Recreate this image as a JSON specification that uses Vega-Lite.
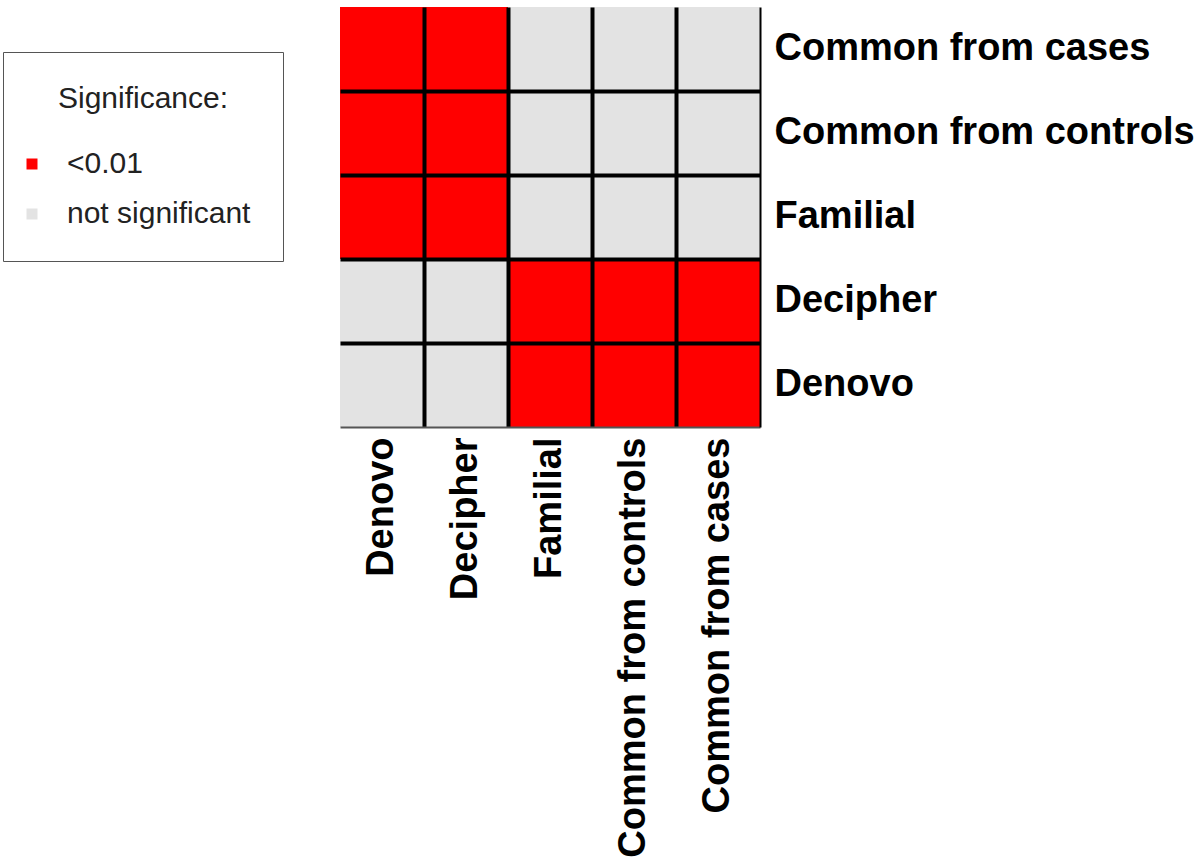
{
  "$schema": "https://vega.github.io/schema/vega-lite/v6.json",
  "width": 420,
  "height": 420,
  "autosize": {"type": "none"},
  "padding": {"left": 340, "top": 7, "right": 440, "bottom": 434},
  "background": "white",
  "data": {
    "values": [
      {"row": "Common from cases", "col": "Denovo", "sig": "<0.01"},
      {"row": "Common from cases", "col": "Decipher", "sig": "<0.01"},
      {"row": "Common from cases", "col": "Familial", "sig": "not significant"},
      {"row": "Common from cases", "col": "Common from controls", "sig": "not significant"},
      {"row": "Common from cases", "col": "Common from cases", "sig": "not significant"},
      {"row": "Common from controls", "col": "Denovo", "sig": "<0.01"},
      {"row": "Common from controls", "col": "Decipher", "sig": "<0.01"},
      {"row": "Common from controls", "col": "Familial", "sig": "not significant"},
      {"row": "Common from controls", "col": "Common from controls", "sig": "not significant"},
      {"row": "Common from controls", "col": "Common from cases", "sig": "not significant"},
      {"row": "Familial", "col": "Denovo", "sig": "<0.01"},
      {"row": "Familial", "col": "Decipher", "sig": "<0.01"},
      {"row": "Familial", "col": "Familial", "sig": "not significant"},
      {"row": "Familial", "col": "Common from controls", "sig": "not significant"},
      {"row": "Familial", "col": "Common from cases", "sig": "not significant"},
      {"row": "Decipher", "col": "Denovo", "sig": "not significant"},
      {"row": "Decipher", "col": "Decipher", "sig": "not significant"},
      {"row": "Decipher", "col": "Familial", "sig": "<0.01"},
      {"row": "Decipher", "col": "Common from controls", "sig": "<0.01"},
      {"row": "Decipher", "col": "Common from cases", "sig": "<0.01"},
      {"row": "Denovo", "col": "Denovo", "sig": "not significant"},
      {"row": "Denovo", "col": "Decipher", "sig": "not significant"},
      {"row": "Denovo", "col": "Familial", "sig": "<0.01"},
      {"row": "Denovo", "col": "Common from controls", "sig": "<0.01"},
      {"row": "Denovo", "col": "Common from cases", "sig": "<0.01"}
    ]
  },
  "mark": {"type": "rect"},
  "encoding": {
    "x": {
      "field": "col",
      "type": "nominal",
      "sort": ["Denovo", "Decipher", "Familial", "Common from controls", "Common from cases"],
      "scale": {"paddingInner": 0, "paddingOuter": 0},
      "axis": {
        "title": null,
        "orient": "bottom",
        "labelAngle": 270,
        "labelFont": "Liberation Sans",
        "labelFontWeight": "bold",
        "labelFontSize": 38,
        "labelColor": "black",
        "labelPadding": 10,
        "labelLimit": 1000,
        "ticks": false,
        "grid": true,
        "bandPosition": 0,
        "gridColor": "black",
        "gridWidth": 4,
        "gridOpacity": {"condition": {"test": "datum.value === 'Denovo'", "value": 0}, "value": 1},
        "domainColor": "#555",
        "domainWidth": 2,
        "zindex": 1
      }
    },
    "y": {
      "field": "row",
      "type": "nominal",
      "sort": ["Common from cases", "Common from controls", "Familial", "Decipher", "Denovo"],
      "scale": {"paddingInner": 0, "paddingOuter": 0},
      "axis": {
        "title": null,
        "orient": "right",
        "labelFont": "Liberation Sans",
        "labelFontWeight": "bold",
        "labelFontSize": 38,
        "labelColor": "black",
        "labelPadding": 14,
        "labelLimit": 1000,
        "ticks": false,
        "grid": true,
        "bandPosition": 0,
        "gridColor": "black",
        "gridWidth": 4,
        "gridOpacity": {"condition": {"test": "datum.value === 'Common from cases'", "value": 0}, "value": 1},
        "domainColor": "black",
        "domainWidth": 2,
        "zindex": 1
      }
    },
    "color": {
      "field": "sig",
      "type": "nominal",
      "scale": {"domain": ["<0.01", "not significant"], "range": ["#ff0000", "#e3e3e3"]},
      "legend": {
        "title": "Significance:",
        "orient": "none",
        "legendX": -337,
        "legendY": 45,
        "padding": 32,
        "strokeColor": "#555",
        "fillColor": "white",
        "titleFont": "Liberation Sans",
        "titleFontWeight": "normal",
        "titleFontSize": 30,
        "titleColor": "#222",
        "titleAnchor": "middle",
        "titlePadding": 35,
        "labelFont": "Liberation Sans",
        "labelFontSize": 30,
        "labelColor": "#222",
        "labelOffset": 20,
        "labelLimit": 1000,
        "symbolType": "square",
        "symbolSize": 121,
        "symbolOffset": -18,
        "symbolStrokeWidth": 0,
        "rowPadding": 20
      }
    }
  },
  "config": {"view": {"stroke": null}}
}
